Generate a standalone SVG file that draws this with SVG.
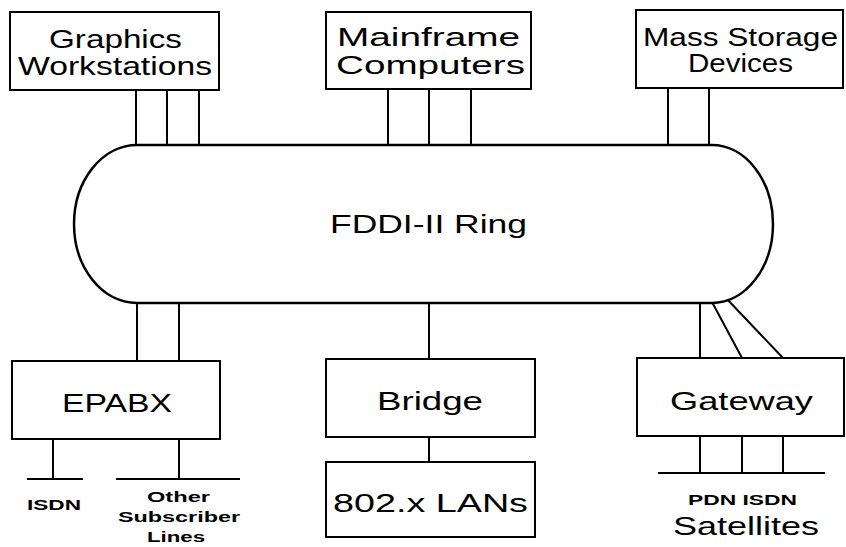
<svg xmlns="http://www.w3.org/2000/svg" width="846" height="547" viewBox="0 0 846 547">
<style>
.box{fill:#fff;stroke:#000;stroke-width:2}
.ring{fill:#fff;stroke:#000;stroke-width:2.5}
.ln{stroke:#000;stroke-width:2;fill:none}
.t{font-family:"Liberation Sans",Arial,sans-serif;font-size:25px;fill:#000}
.tb{font-family:"Liberation Sans",Arial,sans-serif;font-size:14px;font-weight:bold;fill:#000}
</style>
<rect width="846" height="547" fill="#fff"/>
<g id="connectors">
<path class="ln" d="M136,90V145M167,90V145M199,90V145"/>
<path class="ln" d="M388,89V145M429,89V145M471,89V145"/>
<path class="ln" d="M668,88V145M709,88V145"/>
<path class="ln" d="M137,303V361M179,303V361"/>
<path class="ln" d="M429,303V359M429,437V462"/>
<path class="ln" d="M700,303V358M712,302L742,358M725,297L783,358"/>
<path class="ln" d="M53,439V479M27,479H83M179,439V479M116,479H240"/>
<path class="ln" d="M700,436V473M742,436V473M783,436V473M658,473H825"/>
</g>
<g id="ring">
<path class="ring" d="M137,145H712A61,79 0 0 1 712,303H137A63,79 0 0 1 137,145Z"/>
<text class="t" x="330" y="233" font-size="27" textLength="197" lengthAdjust="spacingAndGlyphs">FDDI-II Ring</text>
</g>
<g id="graphics">
<rect class="box" x="10" y="12" width="209" height="78"/>
<text class="t" x="49" y="48" textLength="133" lengthAdjust="spacingAndGlyphs">Graphics</text>
<text class="t" x="18" y="75" textLength="194" lengthAdjust="spacingAndGlyphs">Workstations</text>
</g>
<g id="mainframe">
<rect class="box" x="326" y="12" width="205" height="77"/>
<text class="t" x="337" y="46" textLength="183" lengthAdjust="spacingAndGlyphs">Mainframe</text>
<text class="t" x="336" y="74" textLength="189" lengthAdjust="spacingAndGlyphs">Computers</text>
</g>
<g id="storage">
<rect class="box" x="636" y="10" width="207" height="78"/>
<text class="t" x="643" y="46" font-size="22" textLength="195" lengthAdjust="spacingAndGlyphs">Mass Storage</text>
<text class="t" x="688" y="72" font-size="22" textLength="105" lengthAdjust="spacingAndGlyphs">Devices</text>
</g>
<g id="epabx">
<rect class="box" x="12" y="361" width="208" height="78"/>
<text class="t" x="62" y="412" font-size="26" textLength="110" lengthAdjust="spacingAndGlyphs">EPABX</text>
</g>
<g id="bridge">
<rect class="box" x="326" y="359" width="209" height="78"/>
<text class="t" x="377" y="410" font-size="26" textLength="106" lengthAdjust="spacingAndGlyphs">Bridge</text>
</g>
<g id="lans">
<rect class="box" x="326" y="462" width="209" height="75"/>
<text class="t" x="333" y="512" font-size="26" textLength="195" lengthAdjust="spacingAndGlyphs">802.x LANs</text>
</g>
<g id="gateway">
<rect class="box" x="637" y="358" width="207" height="78"/>
<text class="t" x="670" y="410" font-size="26" textLength="143" lengthAdjust="spacingAndGlyphs">Gateway</text>
</g>
<g id="labels">
<text class="tb" x="27" y="510" textLength="54" lengthAdjust="spacingAndGlyphs">ISDN</text>
<text class="tb" x="147" y="502" textLength="63" lengthAdjust="spacingAndGlyphs">Other</text>
<text class="tb" x="118" y="522" textLength="122" lengthAdjust="spacingAndGlyphs">Subscriber</text>
<text class="tb" x="147" y="542" textLength="58" lengthAdjust="spacingAndGlyphs">Lines</text>
<text class="tb" x="688" y="505" textLength="109" lengthAdjust="spacingAndGlyphs">PDN ISDN</text>
<text class="t" x="673" y="535" font-size="28" textLength="146" lengthAdjust="spacingAndGlyphs">Satellites</text>
</g>
</svg>
